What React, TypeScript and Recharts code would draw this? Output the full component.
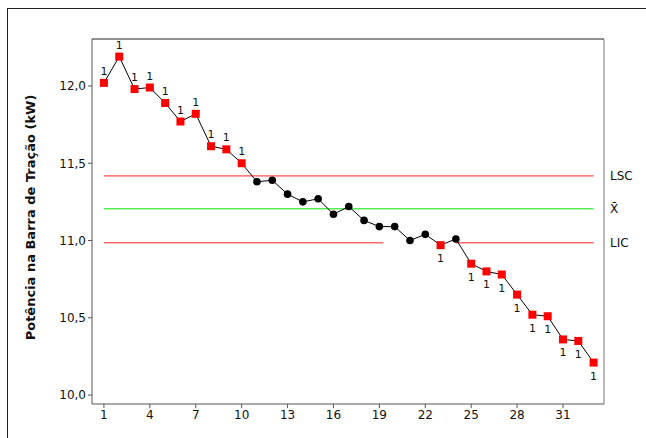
import {
  ComposedChart,
  Line,
  XAxis,
  YAxis,
  ReferenceLine,
} from "recharts";

const observacoes = [
  1, 2, 3, 4, 5, 6, 7, 8, 9, 10, 11, 12, 13, 14, 15, 16, 17, 18, 19, 20, 21,
  22, 23, 24, 25, 26, 27, 28, 29, 30, 31, 32, 33,
];
const potencia = [
  12.02, 12.19, 11.98, 11.99, 11.89, 11.77, 11.82, 11.61, 11.59, 11.5, 11.38,
  11.39, 11.3, 11.25, 11.27, 11.17, 11.22, 11.13, 11.09, 11.09, 11.0, 11.04,
  10.97, 11.01, 10.85, 10.8, 10.78, 10.65, 10.52, 10.51, 10.36, 10.35, 10.21,
];
// 1 = point fails test 1 (outside the control limits)
const falhaTeste = [
  1, 1, 1, 1, 1, 1, 1, 1, 1, 1, 0, 0, 0, 0, 0, 0, 0, 0, 0, 0, 0, 0, 1, 0, 1, 1,
  1, 1, 1, 1, 1, 1, 1,
];
const LSC = 11.418;
const MEDIA = 11.205;
const LIC = 10.985;
const xTicks = [1, 4, 7, 10, 13, 16, 19, 22, 25, 28, 31];
const yTicks = [10, 10.5, 11, 11.5, 12];

const X_MIN = 0.22;
const X_MAX = 33.68;
const Y_MIN = 9.942;
const Y_MAX = 12.304;

const FONT = "'DejaVu Sans', Tahoma, sans-serif";
const VERMELHO = "#ff1f1f";

const data = observacoes.map((obs, i) => ({
  obs,
  valor: potencia[i],
  falha: falhaTeste[i],
}));

const PontoControle = (props: any) => {
  const { cx, cy, payload } = props;
  if (cx == null || cy == null) return null;
  if (!payload.falha) {
    return <circle key={`p-${payload.obs}`} cx={cx} cy={cy} r={3.8} fill="#000" />;
  }
  const acima = payload.valor > MEDIA;
  return (
    <g key={`p-${payload.obs}`}>
      <rect x={cx - 4} y={cy - 4} width={8} height={8} fill="#ff0000" />
      <text
        x={cx}
        y={acima ? cy - 8 : cy + 17}
        textAnchor="middle"
        fontSize={11}
        fontFamily={FONT}
        fill="#111"
      >
        1
      </text>
    </g>
  );
};

const rotuloDireita = (texto: string) => ({
  value: texto,
  position: "right" as const,
  offset: 6,
  fontSize: 12,
  fontFamily: FONT,
  fill: "#111",
});

export default function App() {
  return (
    <div
      style={{
        position: "absolute",
        left: 0,
        top: 0,
        width: 646,
        height: 438,
        overflow: "hidden",
        background: "#fff",
      }}
    >
      <div
        style={{
          position: "absolute",
          left: 7,
          top: 8,
          width: 660,
          height: 450,
          borderLeft: "1px solid #222",
          borderTop: "1px solid #222",
        }}
      />
      <div style={{ position: "absolute", left: 0, top: 0 }}>
        <ComposedChart
          width={646}
          height={438}
          data={data}
          margin={{ top: 39, right: 42, bottom: 4, left: 32 }}
        >
          <XAxis
            dataKey="obs"
            type="number"
            domain={[X_MIN, X_MAX]}
            ticks={xTicks}
            allowDataOverflow
            height={30}
            tickSize={4}
            stroke="#555"
            tick={{ fill: "#111", fontSize: 12, fontFamily: FONT }}
          />
          <YAxis
            type="number"
            domain={[Y_MIN, Y_MAX]}
            ticks={yTicks}
            allowDataOverflow
            width={60}
            tickSize={4}
            stroke="#555"
            tickFormatter={(v: number) => v.toFixed(1).replace(".", ",")}
            tick={{ fill: "#111", fontSize: 12, fontFamily: FONT }}
            label={{
              value: "Potência na Barra de Tração (kW)",
              angle: -90,
              position: "insideLeft",
              offset: -2,
              dy: -4,
              style: {
                textAnchor: "middle",
                fontWeight: "bold",
                fontSize: 13,
                fontFamily: FONT,
                fill: "#111",
              },
            }}
          />
          <ReferenceLine y={Y_MAX} stroke="#222" />
          <ReferenceLine x={X_MAX} stroke="#777" />
          <ReferenceLine
            segment={[
              { x: 1, y: LSC },
              { x: 33, y: LSC },
            ]}
            stroke={VERMELHO}
          />
          <ReferenceLine
            segment={[
              { x: 1, y: MEDIA },
              { x: 33, y: MEDIA },
            ]}
            stroke="#55ee55"
            strokeWidth={1.5}
          />
          <ReferenceLine
            segment={[
              { x: 1, y: LIC },
              { x: 19.25, y: LIC },
            ]}
            stroke={VERMELHO}
          />
          <ReferenceLine
            segment={[
              { x: 24, y: LIC },
              { x: 33, y: LIC },
            ]}
            stroke={VERMELHO}
          />
          <ReferenceLine y={LSC} stroke="none" label={rotuloDireita("LSC")} />
          <ReferenceLine y={MEDIA} stroke="none" label={rotuloDireita("X̄")} />
          <ReferenceLine y={LIC} stroke="none" label={rotuloDireita("LIC")} />
          <Line
            dataKey="valor"
            stroke="#000"
            strokeWidth={1}
            dot={PontoControle}
            activeDot={false}
            isAnimationActive={false}
          />
        </ComposedChart>
      </div>
    </div>
  );
}
